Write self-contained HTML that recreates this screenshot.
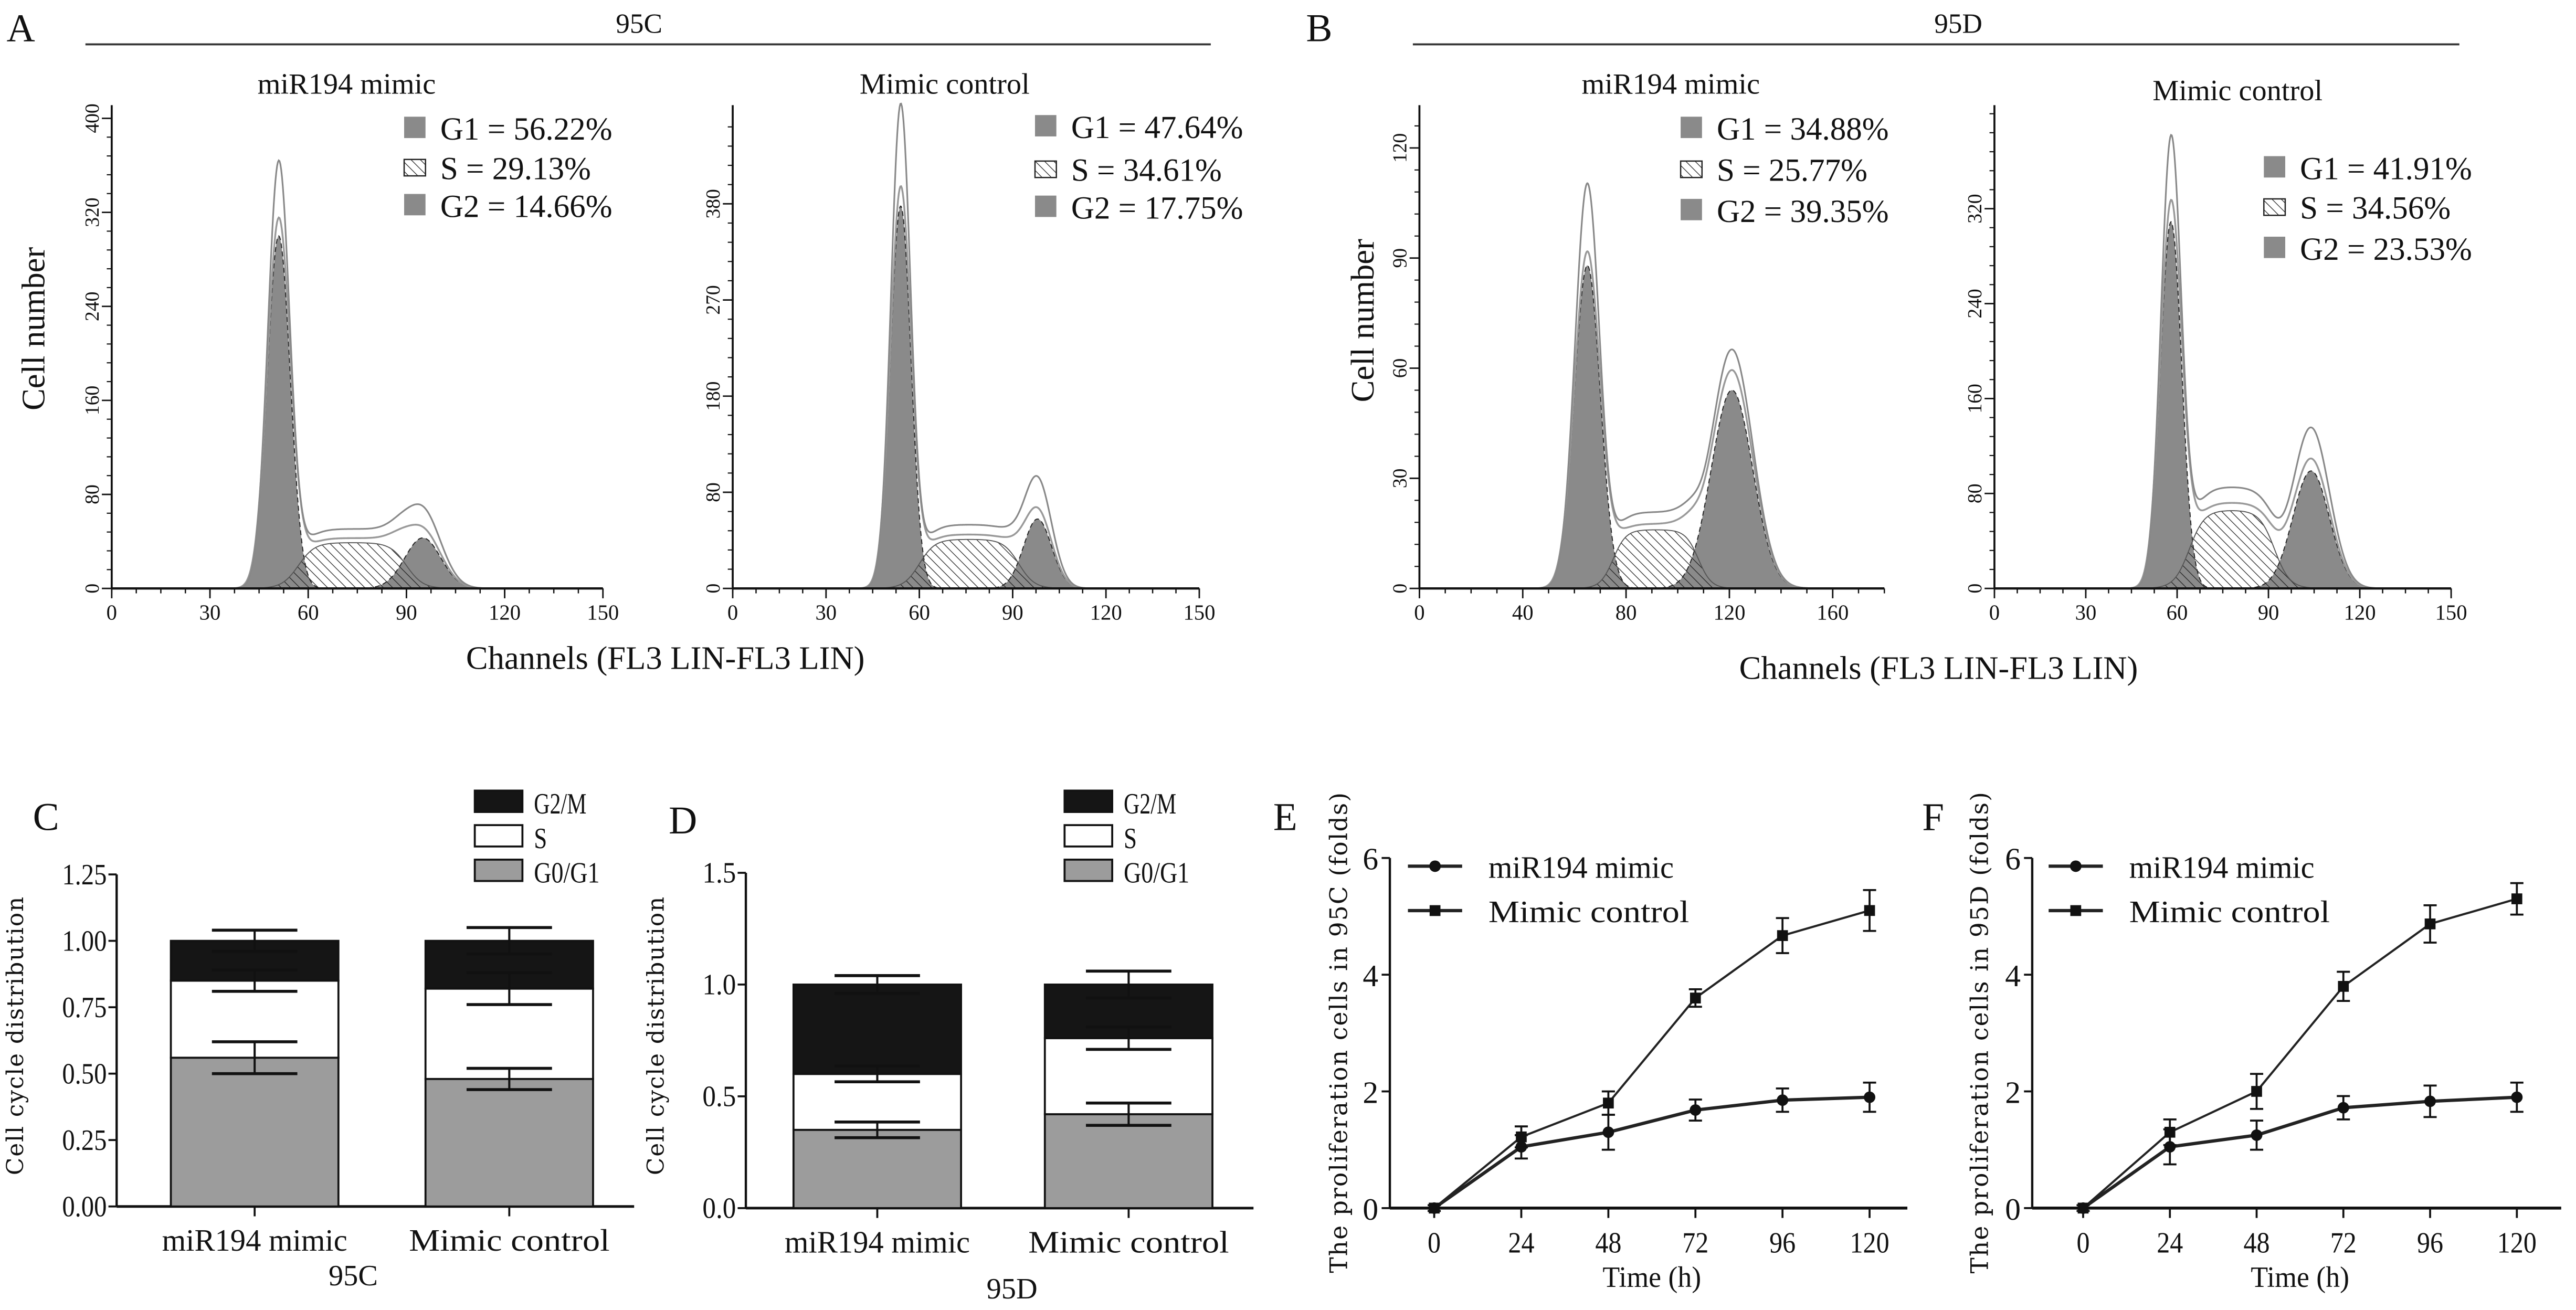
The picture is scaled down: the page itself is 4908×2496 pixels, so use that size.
<!DOCTYPE html>
<html><head><meta charset="utf-8"><style>
html,body{margin:0;padding:0;background:#fff;}
svg{display:block;font-family:"Liberation Serif",serif;}
</style></head><body>
<svg id="fig" xmlns="http://www.w3.org/2000/svg" width="4908" height="2496" viewBox="0 0 1568 797" preserveAspectRatio="none">
<defs>
<pattern id="hatch" patternUnits="userSpaceOnUse" width="4" height="4" patternTransform="rotate(-45)">
<line x1="0" y1="0" x2="0" y2="4" stroke="#222" stroke-width="0.8"/>
</pattern>
</defs>
</svg>
<script>
// ---------- histogram data (channel units / counts) ----------
const histTitles = ["miR194 mimic","Mimic control","miR194 mimic","Mimic control"];
const histG1 = [[51,300,3.5],[54,358,3.3],[65,88,5],[58,309,3.5]];   // pos, height, sd
const histS  = [[57,90,39],[60,92,46],[75,108,16],[64,92,66]];       // start, end, height
const histG2 = [[95,43,5.5],[98,65,4.5],[121,54,8],[104,99,6]];      // pos, height, sd
const histRawPeaks = [[360,64],[449,100],[110,65],[375,135]];
const histLegendG1 = ["G1 = 56.22%","G1 = 47.64%","G1 = 34.88%","G1 = 41.91%"];
const histLegendS  = ["S = 29.13%","S = 34.61%","S = 25.77%","S = 34.56%"];
const histLegendG2 = ["G2 = 14.66%","G2 = 17.75%","G2 = 39.35%","G2 = 23.53%"];
const histXTicks = [[0,30,60,90,120,150],[0,30,60,90,120,150],[0,40,80,120,160],[0,30,60,90,120,150]];
const histYTicks = [[0,80,160,240,320,400],[0,90,180,270,360],[0,30,60,90,120],[0,80,160,240,320]];
const histYTickLabels = [["0","80","160","240","320","400"],["0","80","180","270","380"],["0","30","60","90","120"],["0","80","160","240","320"]];

// ---------- stacked bar data ----------
const barGroups = ["miR194 mimic","Mimic control"];
const cG0 = [0.56,0.48], cS = [0.29,0.34], cG2 = [0.15,0.18];
const cErrG0 = [0.06,0.04], cErrS = [0.04,0.06], cErrG2 = [0.04,0.05];
const dG0 = [0.35,0.42], dS = [0.25,0.34], dG2 = [0.40,0.24];
const dErrG0 = [0.035,0.05], dErrS = [0.035,0.05], dErrG2 = [0.04,0.06];
const cYTicks = [0,0.25,0.5,0.75,1.0,1.25];
const cYTickLabels = ["0.00","0.25","0.50","0.75","1.00","1.25"];
const dYTicks = [0,0.5,1.0,1.5];
const dYTickLabels = ["0.0","0.5","1.0","1.5"];

// ---------- proliferation data ----------
const timePoints = [0,24,48,72,96,120];
const eMimic = [0,1.05,1.3,1.68,1.85,1.9];
const eMimicErr = [0.05,0.2,0.3,0.18,0.2,0.25];
const eControl = [0,1.22,1.8,3.6,4.67,5.1];
const eControlErr = [0,0.18,0.2,0.15,0.3,0.35];
const fMimic = [0,1.05,1.25,1.72,1.83,1.9];
const fMimicErr = [0.05,0.3,0.25,0.2,0.27,0.25];
const fControl = [0,1.3,2.0,3.8,4.87,5.3];
const fControlErr = [0,0.22,0.3,0.25,0.32,0.27];
const lineYTicks = [0,2,4,6];

const NS="http://www.w3.org/2000/svg";
const svg=document.getElementById('fig');
function mk(tag,attrs,parent,text){
  const e=document.createElementNS(NS,tag);
  for(const k in attrs) e.setAttribute(k,attrs[k]);
  if(text!==undefined) e.textContent=text;
  (parent||svg).appendChild(e);
  return e;
}
function txt(x,y,s,size,anchor,parent,extra){
  const a={x:x,y:y,'font-size':size,'text-anchor':anchor||'start',fill:'#111'};
  if(extra) for(const k in extra) a[k]=extra[k];
  return mk('text',a,parent,s);
}

// panel letters & headers
const letters=[["A",4,25],["B",795,25],["C",20,505],["D",407,507],["E",775,505],["F",1170,505]];
letters.forEach(l=>{
  const t=txt(l[1],l[2],l[0],24,'start');
  
  
});
[[52,737,389,"95C"],[860,1497,1192,"95D"]].forEach(h=>{
  const g=mk('g',{});
  
  
  mk('line',{x1:h[0],x2:h[1],y1:27,y2:27,stroke:'#333','stroke-width':1.2},g);
  txt(h[2],20,h[3],17,'middle',g);
});
[[27,200],[836,195]].forEach((p,i)=>{
  const t=txt(p[0],p[1],"Cell number",20,'middle',null,{transform:'rotate(-90 '+p[0]+' '+p[1]+')'});
  
  
});
[[405,407],[1180,413]].forEach(p=>{
  const t=txt(p[0],p[1],"Channels (FL3 LIN-FL3 LIN)",20,'middle');
  
  
});

// ---------- histograms ----------
const histGeom=[
  {x0:68,x1:367,xMax:150,k:0.715,tx:211,ty:57,lx:246,ly:[85,109,132]},
  {x0:446,x1:730,xMax:150,k:0.65,tx:575,ty:57,lx:630,ly:[84,110,133]},
  {x0:864,x1:1147,xMax:180,k:268/120,tx:1017,ty:57,lx:1023,ly:[85,110,135]},
  {x0:1214,x1:1492,xMax:150,k:0.722,tx:1362,ty:61,lx:1378,ly:[109,133,158]}
];
const BASE=358;
function gauss(x,p){return p[1]*Math.exp(-0.5*Math.pow((x-p[0])/p[2],2));}
function sComp(x,p){return p[2]/((1+Math.exp(-(x-p[0])/2.5))*(1+Math.exp((x-p[1])/2.5)));}
histGeom.forEach((G,i)=>{
  const g=mk('g',{});
  
  
  const X=v=>G.x0+(v/G.xMax)*(G.x1-G.x0);
  const Y=v=>BASE-v*G.k;
  const lo=histG1[i][0]-4.5*histG1[i][2], hi=histG2[i][0]+4.5*histG2[i][2];
  function path(fn,closed){
    let d='';
    for(let c=lo;c<=hi+0.001;c+=0.25){d+=(d?'L':'M')+X(c).toFixed(2)+','+Y(fn(c)).toFixed(2);}
    if(closed) d+='L'+X(hi).toFixed(2)+','+BASE+'L'+X(lo).toFixed(2)+','+BASE+'Z';
    return d;
  }
  const f1=mk('path',{d:path(c=>gauss(c,histG1[i]),true),fill:'#8a8a8a',stroke:'#222','stroke-width':0.6,'stroke-dasharray':'3,2'},g);
  
  
  const f2=mk('path',{d:path(c=>gauss(c,histG2[i]),true),fill:'#8a8a8a',stroke:'#222','stroke-width':0.6,'stroke-dasharray':'3,2'},g);
  
  
  const fs=mk('path',{d:path(c=>sComp(c,histS[i]),true),fill:'url(#hatch)',stroke:'#555','stroke-width':0.6},g);
  
  
  const fit=mk('path',{d:path(c=>gauss(c,histG1[i])*1.04+gauss(c,histG2[i])*1.1+sComp(c,histS[i])*1.1,false),fill:'none',stroke:'#999','stroke-width':1.1},g);
  
  
  const r1=histRawPeaks[i][0]/histG1[i][1], r2=histRawPeaks[i][1]/histG2[i][1];
  const raw=mk('path',{d:path(c=>gauss(c,[histG1[i][0],histG1[i][1]*r1,histG1[i][2]*0.95])+gauss(c,[histG2[i][0],histG2[i][1]*r2,histG2[i][2]])+sComp(c,histS[i])*1.3,false),fill:'none',stroke:'#888','stroke-width':1},g);
  
  
  // axes
  mk('line',{x1:G.x0,x2:G.x1,y1:BASE,y2:BASE,stroke:'#111','stroke-width':1.4},g);
  mk('line',{x1:G.x0,x2:G.x0,y1:64,y2:BASE,stroke:'#111','stroke-width':1.2},g);
  for(let c=0;c<=G.xMax;c+=(G.xMax===180?10:7.5)){mk('line',{x1:X(c),x2:X(c),y1:BASE,y2:BASE+3,stroke:'#111','stroke-width':0.8},g);}
  histXTicks[i].forEach(t=>{
    mk('line',{x1:X(t),x2:X(t),y1:BASE,y2:BASE+6,stroke:'#111','stroke-width':0.9},g);
    txt(X(t),BASE+19,String(t),13,'middle',g);
  });
  const yt=histYTicks[i], step=yt[1]-yt[0];
  for(let v=0;Y(v)>=66;v+=step/5){mk('line',{x1:G.x0-3,x2:G.x0,y1:Y(v),y2:Y(v),stroke:'#111','stroke-width':0.7},g);}
  yt.forEach((t,j)=>{
    mk('line',{x1:G.x0-6,x2:G.x0,y1:Y(t),y2:Y(t),stroke:'#111','stroke-width':0.9},g);
    const yy=Y(t), xx=G.x0-8;
    txt(xx,yy,histYTickLabels[i][j],12,'middle',g,{transform:'rotate(-90 '+xx+' '+yy+')'});
  });
  txt(G.tx,G.ty,histTitles[i],18,'middle',g);
  const leg=[histLegendG1[i],histLegendS[i],histLegendG2[i]];
  leg.forEach((s,j)=>{
    const ly=G.ly[j];
    const lg=mk('g',{},g);
    
    
    if(j===1){
      mk('rect',{x:G.lx,y:ly-12,width:13,height:10,fill:'#fff',stroke:'#222','stroke-width':0.8},lg);
      mk('rect',{x:G.lx,y:ly-12,width:13,height:10,fill:'url(#hatch)'},lg);
    } else mk('rect',{x:G.lx,y:ly-14,width:13,height:13,fill:'#8a8a8a'},lg);
    txt(G.lx+22,ly,s,19.5,'start',lg);
  });
});

// ---------- stacked bars ----------
function stacked(cfg){
  const g=mk('g',{});
  
  
  const Y=v=>cfg.base-v*cfg.k;
  mk('line',{x1:cfg.ax0,x2:cfg.ax0,y1:Y(cfg.ticks[cfg.ticks.length-1]),y2:cfg.base,stroke:'#111','stroke-width':1.4},g);
  mk('line',{x1:cfg.ax0,x2:cfg.ax1,y1:cfg.base,y2:cfg.base,stroke:'#111','stroke-width':1.6},g);
  cfg.ticks.forEach((t,j)=>{
    mk('line',{x1:cfg.ax0-5,x2:cfg.ax0,y1:Y(t),y2:Y(t),stroke:'#111','stroke-width':1.2},g);
    txt(cfg.ax0-6,Y(t)+6,cfg.labels[j],18,'end',g,{'textLength':cfg.labels[j].length*6.8,'lengthAdjust':'spacingAndGlyphs'});
  });
  cfg.centers.forEach((cx,i)=>{
    const w=102;
    const v0=cfg.g0[i], v1=v0+cfg.s[i], v2=v1+cfg.g2[i];
    const b=mk('g',{},g);
    
    
    mk('rect',{x:cx-w/2,y:Y(v0),width:w,height:cfg.base-Y(v0),fill:'#9c9c9c',stroke:'#111','stroke-width':1.2},b);
    mk('rect',{x:cx-w/2,y:Y(v1),width:w,height:Y(v0)-Y(v1),fill:'#fff',stroke:'#111','stroke-width':1.2},b);
    mk('rect',{x:cx-w/2,y:Y(v2),width:w,height:Y(v1)-Y(v2),fill:'#151515',stroke:'#111','stroke-width':1.2},b);
    [[v0,cfg.e0[i]],[v1,cfg.e1[i]],[v2,cfg.e2[i]]].forEach(p=>{
      const e=mk('g',{},b);
      
      
      mk('line',{x1:cx,x2:cx,y1:Y(p[0]-p[1]),y2:Y(p[0]+p[1]),stroke:'#111','stroke-width':1.3},e);
      mk('line',{x1:cx-26,x2:cx+26,y1:Y(p[0]-p[1]),y2:Y(p[0]-p[1]),stroke:'#111','stroke-width':1.8},e);
      mk('line',{x1:cx-26,x2:cx+26,y1:Y(p[0]+p[1]),y2:Y(p[0]+p[1]),stroke:'#111','stroke-width':1.8},e);
    });
    mk('line',{x1:cx,x2:cx,y1:cfg.base,y2:cfg.base+6,stroke:'#111','stroke-width':1.2},g);
    txt(cx,cfg.base+27,barGroups[i],19,'middle',g,{'textLength':barGroups[i].length*9.4,'lengthAdjust':'spacingAndGlyphs'});
  });
  txt(cfg.groupX,cfg.groupY,cfg.group,18,'middle',g);
  const tx=cfg.titleX, ty=630;
  txt(tx,ty,"Cell cycle distribution",16,'middle',g,{transform:'rotate(-90 '+tx+' '+ty+')','font-family':'"DejaVu Serif","Liberation Serif",serif','font-size':14,'letter-spacing':'0.6'});
  [["G2/M",'#151515',488],["S",'#fff',509],["G0/G1",'#9c9c9c',530]].forEach(l=>{
    const lg=mk('g',{},g);
    
    
    mk('rect',{x:cfg.lx,y:l[2]-7,width:29,height:13,fill:l[1],stroke:'#111','stroke-width':1.2},lg);
    txt(cfg.lx+36,l[2]+7,l[0],18,'start',lg,{'textLength':l[0].length*8,'lengthAdjust':'spacingAndGlyphs'});
  });
}
stacked({name:'panel-c-stacked-bar',base:734,k:161.6,ax0:71,ax1:386,centers:[155,310],g0:cG0,s:cS,g2:cG2,e0:cErrG0,e1:cErrS,e2:cErrG2,ticks:cYTicks,labels:cYTickLabels,group:"95C",groupX:215,groupY:782,titleX:14,lx:289});
stacked({name:'panel-d-stacked-bar',base:735,k:136,ax0:454,ax1:763,centers:[534,687],g0:dG0,s:dS,g2:dG2,e0:dErrG0,e1:dErrS,e2:dErrG2,ticks:dYTicks,labels:dYTickLabels,group:"95D",groupX:616,groupY:790,titleX:404,lx:648});

// ---------- line charts ----------
function lineChart(cfg){
  const g=mk('g',{});
  
  
  const X=t=>cfg.x0+(t/120)*(cfg.x120-cfg.x0);
  const Y=v=>735-v*35.5;
  mk('line',{x1:cfg.ax,x2:cfg.ax,y1:Y(6),y2:735,stroke:'#111','stroke-width':1.4},g);
  mk('line',{x1:cfg.ax,x2:cfg.axEnd,y1:735,y2:735,stroke:'#111','stroke-width':1.8},g);
  lineYTicks.forEach(t=>{
    mk('line',{x1:cfg.ax-5,x2:cfg.ax,y1:Y(t),y2:Y(t),stroke:'#111','stroke-width':1.2},g);
    txt(cfg.ax-7,Y(t)+7,String(t),19,'end',g);
  });
  timePoints.forEach(t=>{
    mk('line',{x1:X(t),x2:X(t),y1:735,y2:741,stroke:'#111','stroke-width':1.2},g);
    txt(X(t),762,String(t),18,'middle',g,{'textLength':String(t).length*8,'lengthAdjust':'spacingAndGlyphs'});
  });
  txt((cfg.x0+cfg.x120)/2,783,"Time (h)",18,'middle',g,{'textLength':60,'lengthAdjust':'spacingAndGlyphs'});
  const tx=cfg.titleX, ty=628;
  txt(tx,ty,cfg.title,16,'middle',g,{transform:'rotate(-90 '+tx+' '+ty+')','font-family':'"DejaVu Serif","Liberation Serif",serif','font-size':14.5,'letter-spacing':'0.7'});
  [[cfg.mimic,cfg.mimicErr,'circle','miR194 mimic',2],[cfg.control,cfg.controlErr,'square','Mimic control',1.3]].forEach(s=>{
    const sg=mk('g',{},g);
    
    
    let d='';
    timePoints.forEach((t,i)=>{d+=(i?'L':'M')+X(t)+','+Y(s[0][i]);});
    mk('path',{d:d,fill:'none',stroke:'#222','stroke-width':s[4]},sg);
    timePoints.forEach((t,i)=>{
      const v=s[0][i], e=s[1][i];
      if(e>0){
        mk('line',{x1:X(t),x2:X(t),y1:Y(v-e),y2:Y(v+e),stroke:'#111','stroke-width':1.2},sg);
        mk('line',{x1:X(t)-4,x2:X(t)+4,y1:Y(v-e),y2:Y(v-e),stroke:'#111','stroke-width':1.2},sg);
        mk('line',{x1:X(t)-4,x2:X(t)+4,y1:Y(v+e),y2:Y(v+e),stroke:'#111','stroke-width':1.2},sg);
      }
      if(s[2]==='circle') mk('circle',{cx:X(t),cy:Y(v),r:3.5,fill:'#111'},sg);
      else mk('rect',{x:X(t)-3.3,y:Y(v)-3.3,width:6.6,height:6.6,fill:'#111'},sg);
    });
  });
  [[527,'circle','miR194 mimic'],[554,'square','Mimic control']].forEach(l=>{
    const lg=mk('g',{},g);
    
    
    mk('line',{x1:cfg.lx,x2:cfg.lx+33,y1:l[0],y2:l[0],stroke:'#222','stroke-width':2},lg);
    const cx=cfg.lx+16.5;
    if(l[1]==='circle') mk('circle',{cx:cx,cy:l[0],r:3.5,fill:'#111'},lg);
    else mk('rect',{x:cx-3.3,y:l[0]-3.3,width:6.6,height:6.6,fill:'#111'},lg);
    txt(cfg.lx+49,l[0]+7,l[2],19,'start',lg,{'textLength':l[2].length*9.4,'lengthAdjust':'spacingAndGlyphs'});
  });
}
lineChart({name:'panel-e-line-chart',ax:846,axEnd:1161,x0:873,x120:1138,mimic:eMimic,mimicErr:eMimicErr,control:eControl,controlErr:eControlErr,title:"The proliferation cells in 95C (folds)",titleX:820,lx:857});
lineChart({name:'panel-f-line-chart',ax:1237,axEnd:1559,x0:1268,x120:1532,mimic:fMimic,mimicErr:fMimicErr,control:fControl,controlErr:fControlErr,title:"The proliferation cells in 95D (folds)",titleX:1210,lx:1247});
</script>
</body></html>
